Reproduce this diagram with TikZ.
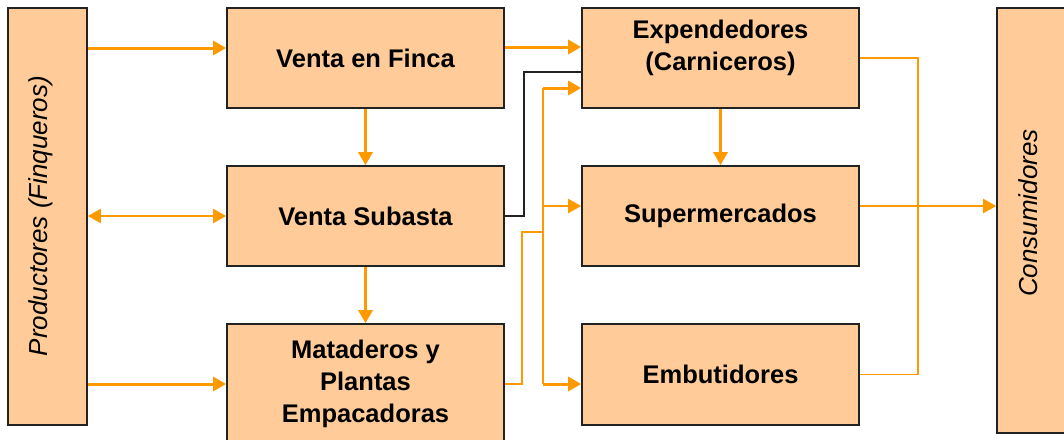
\documentclass[tikz,border=0pt]{standalone}
\usepackage{fontspec}
\setmainfont{Liberation Sans}
\usetikzlibrary{arrows.meta}

\definecolor{rpeach}{HTML}{FFCC99}
\definecolor{rorange}{HTML}{FF9900}
\definecolor{rline}{HTML}{222222}

\tikzset{
  box/.style={draw=rline, line width=1.6pt, fill=rpeach, minimum width=277pt,
    minimum height=100pt, inner sep=0pt, align=center,
    font=\fontsize{25.5}{32}\selectfont\bfseries},
  sidebox/.style={draw=rline, line width=1.6pt, fill=rpeach, inner sep=0pt},
  sidetext/.style={rotate=90, inner sep=0pt, font=\fontsize{26}{30}\selectfont\itshape},
  flow/.style={rorange, line width=3pt, -{Triangle[length=13pt,width=14pt]}},
  flowthin/.style={rorange, line width=2pt, -{Triangle[length=13pt,width=14pt]}},
  flowboth/.style={rorange, line width=2pt,
    {Triangle[length=13pt,width=14pt]}-{Triangle[length=13pt,width=14pt]}},
  link/.style={rorange, line width=1.6pt},
}

\begin{document}
\begin{tikzpicture}[x=1pt,y=-1pt]
  \useasboundingbox (0,0) rectangle (1064,439);
  \fill[white] (0,0) rectangle (1064,439);
  \clip (0,0) rectangle (1064,439);

  % side boxes
  \node[sidebox, minimum width=79pt, minimum height=417pt] (prod) at (47.5,216.5) {};
  \node[sidetext] (prodtxt) at (41,216) {Productores (Finqueros)};
  \node[sidebox, minimum width=83pt, minimum height=425pt] (cons) at (1038.5,220.5) {};
  \node[sidetext] (constxt) at (1028,213) {Consumidores};

  % middle boxes
  \node[box] (finca) at (365.5,58) {Venta en Finca};
  \node[box] (subasta) at (365.5,216) {Venta Subasta};
  \node[box, minimum height=120pt] (matad) at (365.5,384) {Mataderos y\\Plantas\\Empacadoras};
  \node[box, text depth=25pt] (exp) at (720.5,58) {Expendedores\\(Carniceros)};
  \node[box] (super) at (720.5,216) {Supermercados};
  \node[box, minimum height=101pt] (embut) at (720.5,374.5) {Embutidores};

  \coordinate (fincain) at ([yshift=10pt]finca.west);
  \coordinate (expin1) at ([yshift=11pt]exp.west);
  \coordinate (expin2) at ([yshift=-14pt]exp.west);
  \coordinate (expin3) at ([yshift=-30pt]exp.west);
  \coordinate (superin) at ([yshift=10pt]super.west);
  \coordinate (embutin) at ([yshift=-9.5pt]embut.west);
  \coordinate (bus) at (543,232);
  \coordinate (rbus) at (918,216);

  \draw[flow] (prod.east |- fincain) -- (fincain);
  \draw[flowboth] (prod.east |- subasta.west) -- (subasta.west);
  \draw[flow] (prod.east |- matad.west) -- (matad.west);
  \draw[flow] (finca.south) -- (subasta.north);
  \draw[flow] (subasta.south) -- (matad.north);
  \draw[flow] (finca.east |- expin1) -- (expin1);
  \draw[rline, line width=1.6pt] (subasta.east) -- ++(19,0) |- (expin2);

  % mataderos to the three buyers
  \draw[link] (matad.east) -- ++(17,0) |- (bus);
  \draw[link] (bus |- expin3) -- (bus |- embutin);
  \draw[flow] (bus |- expin3) -- (expin3);
  \draw[flowthin] (bus |- superin) -- (superin);
  \draw[flow] (bus |- embutin) -- (embutin);

  \draw[flow] (exp.south) -- (super.north);
  \draw[link] (exp.east) -| (rbus) |- (embut.east);
  \draw[flowthin] ([yshift=10pt]super.east) -- (cons.west |- superin);
\end{tikzpicture}
\end{document}
